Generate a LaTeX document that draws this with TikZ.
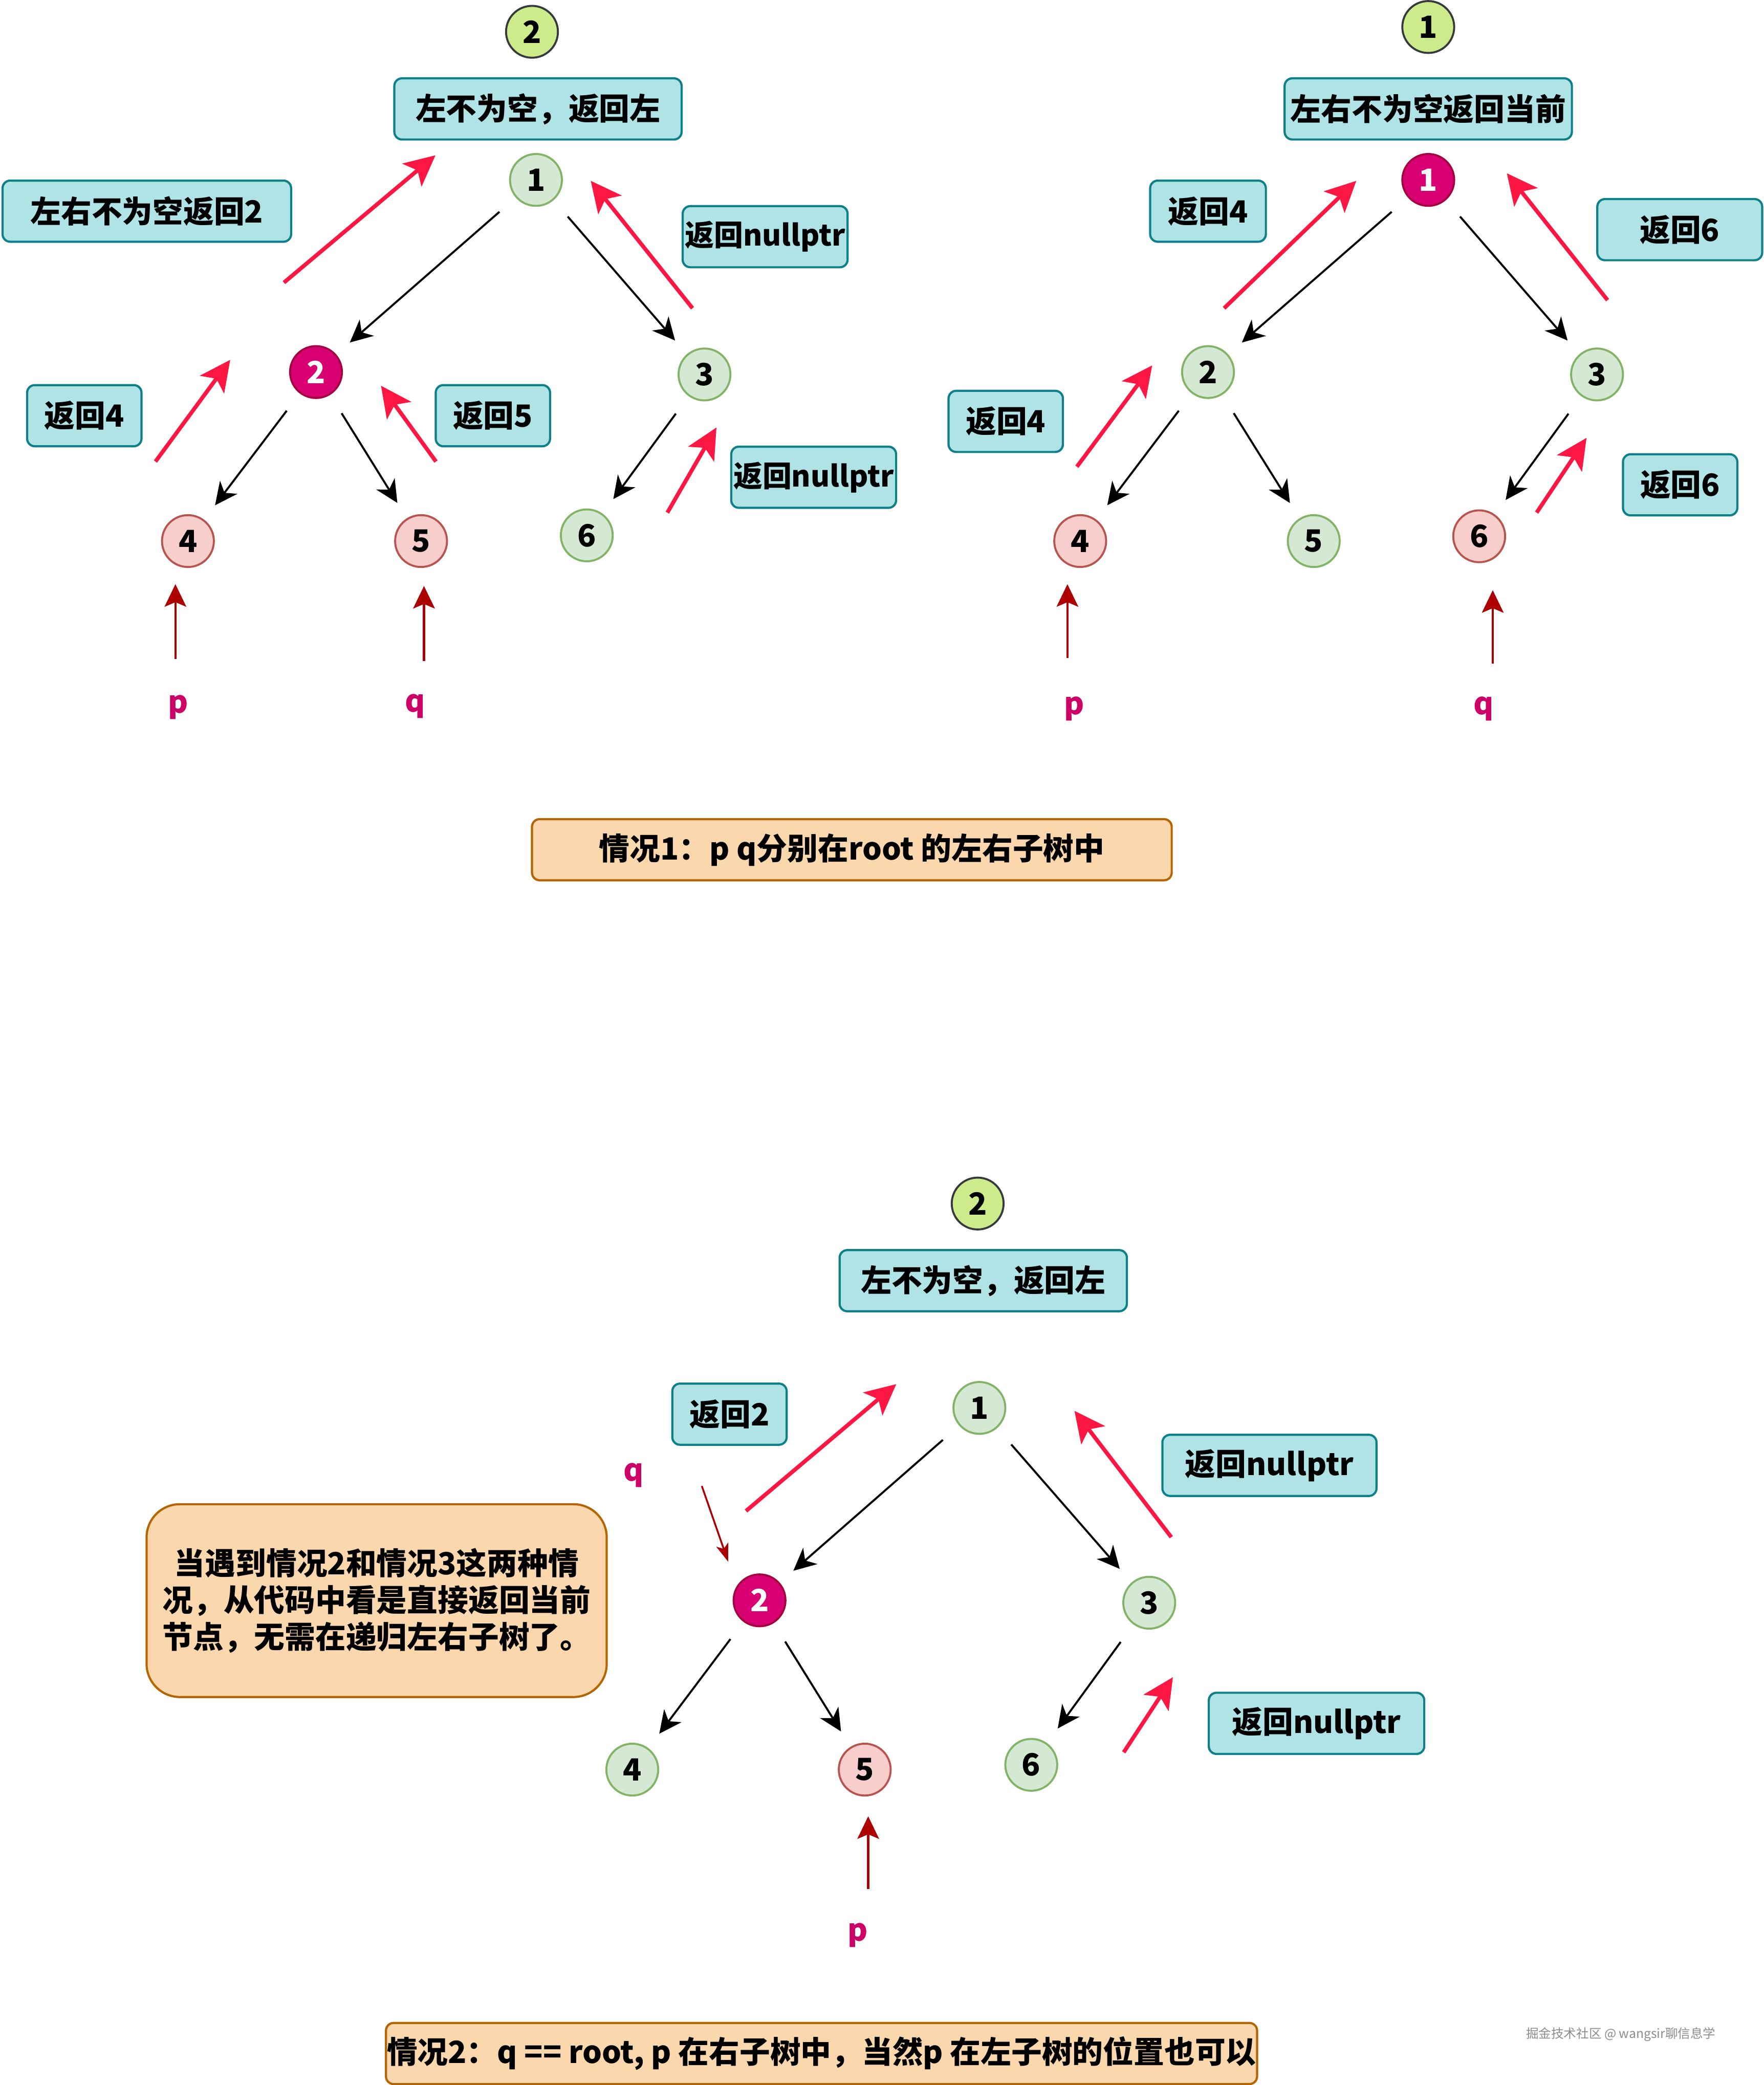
\documentclass[tikz,border=0pt]{standalone}
\usepackage{fontspec}
\setmainfont{Noto Sans CJK SC}
\usetikzlibrary{arrows.meta, positioning}
\definecolor{tealline}{HTML}{0E8088}
\definecolor{tealfill}{HTML}{B0E3E6}
\definecolor{greenline}{HTML}{82B366}
\definecolor{greenfill}{HTML}{D5E8D4}
\definecolor{pinkline}{HTML}{B85450}
\definecolor{pinkfill}{HTML}{F8CECC}
\definecolor{magline}{HTML}{A50040}
\definecolor{magfill}{HTML}{D80073}
\definecolor{limefill}{HTML}{CDEB8B}
\definecolor{slateline}{HTML}{36393D}
\definecolor{orangeline}{HTML}{B46504}
\definecolor{orangefill}{HTML}{FAD7AC}
\definecolor{retred}{HTML}{FF1744}
\definecolor{pqred}{HTML}{AD0000}
\definecolor{pqtext}{HTML}{CC0066}
\newcommand{\pxu}{0.2598mm}

\begin{document}
\begin{tikzpicture}[x=\pxu, y=-\pxu,
  every node/.style={font=\fontsize{17}{21}\selectfont\bfseries},
  tnode/.style={circle, draw, line width=1.1pt, minimum size=39*\pxu, inner sep=0pt},
  gnode/.style={tnode, fill=greenfill, draw=greenline},
  pnode/.style={tnode, fill=pinkfill, draw=pinkline},
  mnode/.style={tnode, fill=magfill, draw=magline, text=white},
  snode/.style={tnode, fill=limefill, draw=slateline},
  tbox/.style={draw=tealline, fill=tealfill, line width=1.2pt, rounded corners=1.5mm, minimum height=46*\pxu, inner sep=0pt},
  nbox/.style={tbox, font=\fontsize{16.2}{20}\selectfont\bfseries},
  obox/.style={draw=orangeline, fill=orangefill, line width=1.2pt, rounded corners=1.5mm, minimum height=46*\pxu, inner sep=0pt},
  pqlab/.style={text=pqtext},
  tedge/.style={-{Stealth[length=12.5pt, width=12pt, inset=3.8pt]}, line width=1.1pt, shorten <=12pt, shorten >=10pt},
  redge/.style={-{Stealth[length=17pt, width=16.5pt, inset=4pt]}, draw=retred, line width=2.2pt},
  pedge/.style={-{Stealth[length=12.5pt, width=12pt, inset=2.5pt]}, draw=pqred, line width=1.3pt, shorten >=9pt}
]

  \fill[white] (0,0) rectangle (1326,1568);
  \useasboundingbox (0,0) rectangle (1326,1568);

  %% Case 1, left tree: p = 4, q = 5
  \node[snode] (as) at (400,23.9) {2};
  \node[tbox, minimum width=216*\pxu] (atop) at (404.5,81.9) {左不为空，返回左};
  \foreach \n/\x/\y/\s in {1/403/135.3/gnode, 2/237.6/279.8/mnode, 3/529.7/281.6/gnode,
                           4/141.3/406.9/pnode, 5/316.6/406.9/pnode, 6/441.2/402.6/gnode}{
    \node[\s] (a\n) at (\x,\y) {\n};
  }
  \foreach \u/\v in {1/2,1/3,2/4,2/5,3/6}{
    \draw[tedge] (a\u) -- (a\v);
  }
  \node[tbox, minimum width=217*\pxu] (aret2) at (110.4,158.8) {左右不为空返回2};
  \node[nbox, minimum width=124*\pxu] (anull1) at (575.3,178) {返回nullptr};
  \node[tbox, minimum width=86*\pxu] (aret4) at (63.4,312.6) {返回4};
  \node[tbox, minimum width=86*\pxu] (aret5) at (370.6,312.6) {返回5};
  \node[nbox, minimum width=124*\pxu] (anull2) at (611.8,358.9) {返回nullptr};
  \foreach \i/\sx/\sy/\ex/\ey in {1/213.5/212.5/327.4/116.8, 2/520.7/231.8/444.2/136,
                                  3/116.9/347.1/173.1/270.6, 4/327.8/347.1/286.5/290.1,
                                  5/501.8/385.5/538.7/321.5}{
    \coordinate (ar\i s) at (\sx,\sy);
    \coordinate (ar\i e) at (\ex,\ey);
    \draw[redge] (ar\i s) -- (ar\i e);
  }
  \node[pqlab] (ap) at (134,532) {p};
  \node[pqlab] (aq) at (312,531) {q};
  \coordinate (aps) at (131.9,495.6);
  \coordinate (aqs) at (318.8,497);
  \draw[pedge] (aps) -- (aps |- a4.south);
  \draw[pedge, shorten >=10pt] (aqs) -- (aqs |- a5.south);

  %% Case 1, right tree: p = 4, q = 6
  \node[snode] (bs) at (1073.9,20.3) {1};
  \node[tbox, minimum width=216*\pxu] (btop) at (1073.9,81.9) {左右不为空返回当前};
  \foreach \n/\x/\y/\s in {1/1073.9/135.3/mnode, 2/908.3/279.8/gnode, 3/1200.8/281.6/gnode,
                           4/812.2/406.9/pnode, 5/987.8/406.9/gnode, 6/1112.2/403.3/pnode}{
    \node[\s] (b\n) at (\x,\y) {\n};
  }
  \foreach \u/\v in {1/2,1/3,2/4,2/5,3/6}{
    \draw[tedge] (b\u) -- (b\v);
  }
  \node[tbox, minimum width=87*\pxu] (bret4a) at (908.3,158.8) {返回4};
  \node[tbox, minimum width=124*\pxu] (bret6a) at (1263,172.7) {返回6};
  \node[tbox, minimum width=86*\pxu] (bret4b) at (756.2,316.9) {返回4};
  \node[tbox, minimum width=86*\pxu] (bret6b) at (1263.3,364.6) {返回6};
  \foreach \i/\sx/\sy/\ex/\ey in {1/920.4/231.8/1019.8/136, 2/1208.7/225.7/1133/130.3,
                                  3/809.7/351/866.3/274.8, 4/1155.4/385.5/1192.9/329.3}{
    \coordinate (br\i s) at (\sx,\sy);
    \coordinate (br\i e) at (\ex,\ey);
    \draw[redge] (br\i s) -- (br\i e);
  }
  \node[pqlab] (bp) at (807.6,533) {p};
  \node[pqlab] (bq) at (1115.5,533) {q};
  \coordinate (bps) at (802.6,494.8);
  \coordinate (bqs) at (1122.4,499.1);
  \draw[pedge] (bps) -- (bps |- b4.south);
  \draw[pedge, shorten >=15pt] (bqs) -- (bqs |- b6.south);

  %% Case 1 caption
  \node[obox, minimum width=481*\pxu] (case1) at (640.5,639) {情况1：p q分别在root 的左右子树中};

  %% Case 2: q = root of subtree, p = 5
  \node[snode] (cs) at (735.1,905.1) {2};
  \node[tbox, minimum width=216*\pxu] (ctop) at (739.3,963.1) {左不为空，返回左};
  \foreach \n/\x/\y/\s in {1/736.4/1058.8/gnode, 2/571.1/1203.5/mnode, 3/864.1/1205.3/gnode,
                           4/475.4/1330.8/gnode, 5/650.2/1330.8/pnode, 6/775.4/1327.2/gnode}{
    \node[\s] (c\n) at (\x,\y) {\n};
  }
  \foreach \u/\v in {1/2,1/3,2/4,2/5,3/6}{
    \draw[tedge] (c\u) -- (c\v);
  }
  \node[tbox, minimum width=86*\pxu] (cret2) at (548.5,1063.5) {返回2};
  \node[tbox, minimum width=161*\pxu] (cnull1) at (954.5,1102) {返回nullptr};
  \node[tbox, minimum width=162*\pxu] (cnull2) at (989.9,1296) {返回nullptr};
  \foreach \i/\sx/\sy/\ex/\ey in {1/560.9/1136.3/673.9/1040.9, 2/880.7/1156/807.9/1061,
                                  3/844.9/1317.8/881.9/1261.3}{
    \coordinate (cr\i s) at (\sx,\sy);
    \coordinate (cr\i e) at (\ex,\ey);
    \draw[redge] (cr\i s) -- (cr\i e);
  }
  \node[obox, rounded corners=6.5mm, minimum width=346*\pxu, minimum height=145*\pxu,
        align=center, font=\fontsize{17}{20.6}\selectfont\bfseries] (cnote) at (283.2,1203.7)
    {当遇到情况2和情况3这两种情\\况，从代码中看是直接返回当前\\节点，无需在递归左右子树了。};
  \node[pqlab] (cq) at (476.6,1109.4) {q};
  \coordinate (cqs) at (527.7,1117.5);
  \coordinate (cqe) at (547.5,1174.4);
  \draw[pedge, line width=1pt, shorten >=0pt, -{Stealth[length=10pt, width=7pt, inset=2.5pt]}] (cqs) -- (cqe);
  \node[pqlab] (cp) at (645.1,1455.3) {p};
  \coordinate (cps) at (652.8,1420.8);
  \draw[pedge, shorten >=11pt] (cps) -- (cps |- c5.south);

  %% Case 2 caption
  \node[obox, minimum width=655*\pxu] (case2) at (617.7,1544.3) {情况2：q == root, p 在右子树中，当然p 在左子树的位置也可以};

  %% Watermark
  \node[font=\fontsize{7}{8}\selectfont, text=black!45] (wm) at (1218.7,1529.8) {掘金技术社区 @ wangsir聊信息学};

\end{tikzpicture}
\end{document}
